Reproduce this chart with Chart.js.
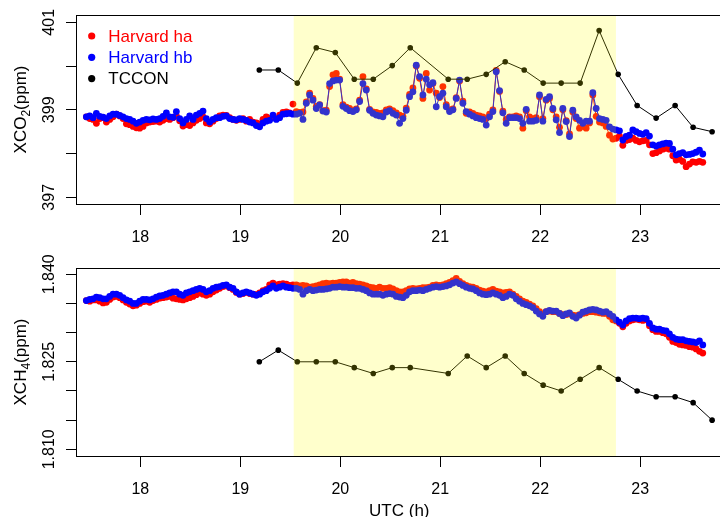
<!DOCTYPE html>
<html>
<head>
<meta charset="utf-8">
<script src="https://cdn.jsdelivr.net/npm/chart.js@4.4.1/dist/chart.umd.min.js"></script>
<style>
  html, body { margin: 0; padding: 0; background: #fff; overflow: hidden; }
  canvas { position: absolute; left: 0; }
  #co2 { top: 0; }
  #ch4 { top: 240px; }
</style>
</head>
<body>
<canvas id="co2" width="726" height="258"></canvas>
<canvas id="ch4" width="726" height="277"></canvas>
<script>
// Harvard spectrometers sample every 2 minutes from 17.46 UTC
const harvardStart = 17.46;
const harvardStep = 2 / 60;

const co2Ha = [
  398.84, 398.80, 398.78, 398.69, 398.80, 398.82, 398.72, 398.78, 398.84, 398.90, 398.86, 398.80,
  398.68, 398.66, 398.62, 398.59, 398.58, 398.62, 398.70, 398.72, 398.73, 398.74, 398.72, 398.76,
  398.80, 398.78, 398.82, 398.86, 398.75, 398.63, 398.66, 398.64, 398.70, 398.76, 398.80, 398.84,
  398.70, 398.68, 398.74, 398.80, 398.86, 398.88, 398.87, 398.82, 398.78, 398.76, 398.78, 398.80,
  398.74, 398.78, 398.72, 398.70, 398.68, 398.78, 398.84, 398.80, 398.84, 398.80, 398.88, 398.94,
  398.95, 398.93, 399.13, 398.96, 398.94, 398.95, 399.18, 399.38, 399.26, 399.08, 399.12, 398.98,
  398.99, 399.53, 399.80, 399.83, 399.70, 399.12, 399.06, 399.03, 398.98, 399.02, 399.22, 399.76,
  399.48, 399.01, 398.95, 398.94, 398.92, 398.93, 399.00, 399.02, 398.98, 398.93, 398.88, 398.85,
  399.04, 399.35, 399.50, 400.00, 399.72, 399.26, 399.83, 399.45, 399.60, 399.38, 399.28, 399.53,
  399.12, 399.00, 399.02, 399.28, 399.66, 399.20, 398.92, 398.95, 398.92, 398.88, 398.86, 398.84,
  398.80, 398.90, 399.00, 399.90, 399.42, 398.97, 398.78, 398.84, 398.84, 398.86, 398.84, 398.58,
  398.98, 398.84, 398.80, 398.82, 399.30, 398.80, 399.22, 399.26, 399.00, 398.84, 398.60, 399.00,
  398.75, 398.45, 398.95, 398.80, 398.58, 398.62, 398.58, 398.70, 399.34, 398.85, 398.72, 398.70,
  398.62, 398.42, 398.33, 398.35, 398.40, 398.19, 398.30, 398.32, 398.35, 398.30, 398.27, 398.29,
  398.30, 398.20, 398.00, 398.02, 398.06, 398.10, 398.12, 398.10, 397.95, 397.85, 397.87, 397.82,
  397.70, 397.76, 397.81, 397.80, 397.82, 397.80
];
const co2Hb = [
  398.84, 398.86, 398.82, 398.92, 398.85, 398.83, 398.80, 398.86, 398.90, 398.90, 398.87, 398.84,
  398.80, 398.78, 398.74, 398.69, 398.72, 398.76, 398.78, 398.77, 398.79, 398.78, 398.80, 398.85,
  398.93, 398.84, 398.83, 398.96, 398.80, 398.70, 398.78, 398.86, 398.78, 398.88, 398.92, 398.97,
  398.80, 398.72, 398.78, 398.82, 398.82, 398.85, 398.86, 398.80, 398.78, 398.77, 398.80, 398.78,
  398.76, 398.72, 398.70, 398.64, 398.61, 398.70, 398.74, 398.76, 398.88, 398.78, 398.82, 398.90,
  398.91, 398.92, 398.90, 398.90, 398.92, 398.78, 399.15, 399.34, 399.22, 399.03, 399.11, 398.97,
  398.95, 399.60, 399.66, 399.68, 399.68, 399.08, 399.03, 398.98, 398.96, 399.00, 399.19, 399.60,
  399.45, 398.99, 398.92, 398.88, 398.86, 398.84, 398.95, 398.98, 398.92, 398.88, 398.69, 398.80,
  398.99, 399.30, 399.41, 400.02, 399.76, 399.34, 399.70, 399.57, 399.62, 399.07, 399.30, 399.38,
  399.07, 398.96, 399.00, 399.26, 399.68, 399.15, 398.96, 398.90, 398.86, 398.82, 398.80, 398.78,
  398.65, 398.84, 398.96, 399.87, 399.44, 398.93, 398.69, 398.82, 398.82, 398.82, 398.80, 398.69,
  399.01, 398.74, 398.74, 398.76, 399.34, 398.74, 399.24, 399.30, 399.03, 398.77, 398.48, 399.03,
  398.73, 398.39, 398.99, 398.84, 398.76, 398.69, 398.74, 398.74, 399.39, 399.03, 398.80, 398.78,
  398.76, 398.61, 398.56, 398.54, 398.52, 398.31, 398.39, 398.42, 398.54, 398.50, 398.46, 398.44,
  398.48, 398.40, 398.20, 398.17, 398.20, 398.22, 398.24, 398.23, 398.10, 397.97, 398.00, 398.02,
  397.97, 397.98, 398.00, 398.03, 398.08, 397.99
];
const ch4Ha = [
  1.8355, 1.8354, 1.8356, 1.8356, 1.8354, 1.8351, 1.8352, 1.8357, 1.8361, 1.8362, 1.8360, 1.8356,
  1.8352, 1.8349, 1.8346, 1.8347, 1.8350, 1.8353, 1.8354, 1.8352, 1.8355, 1.8357, 1.8359, 1.8360,
  1.8361, 1.8362, 1.8359, 1.8358, 1.8357, 1.8356, 1.8358, 1.8360, 1.8362, 1.8365, 1.8368, 1.8366,
  1.8364, 1.8366, 1.8370, 1.8373, 1.8376, 1.8379, 1.8380, 1.8377, 1.8374, 1.8369, 1.8366, 1.8367,
  1.8369, 1.8367, 1.8366, 1.8365, 1.8368, 1.8372, 1.8374, 1.8382, 1.8385, 1.8382, 1.8383, 1.8384,
  1.8383, 1.8381, 1.8382, 1.8382, 1.8380, 1.8381, 1.8380, 1.8378, 1.8379, 1.8380, 1.8382, 1.8384,
  1.8385, 1.8384, 1.8385, 1.8385, 1.8386, 1.8387, 1.8387, 1.8385, 1.8386, 1.8384, 1.8383, 1.8382,
  1.8380, 1.8378, 1.8377, 1.8376, 1.8378, 1.8376, 1.8376, 1.8377, 1.8375, 1.8372, 1.8370, 1.8370,
  1.8372, 1.8375, 1.8376, 1.8375, 1.8376, 1.8377, 1.8377, 1.8378, 1.8381, 1.8382, 1.8381, 1.8382,
  1.8384, 1.8386, 1.8389, 1.8393, 1.8388, 1.8384, 1.8381, 1.8379, 1.8378, 1.8376, 1.8373, 1.8371,
  1.8370, 1.8372, 1.8374, 1.8371, 1.8370, 1.8368, 1.8369, 1.8370, 1.8366, 1.8362, 1.8358, 1.8354,
  1.8352, 1.8349, 1.8346, 1.8341, 1.8336, 1.8332, 1.8336, 1.8337, 1.8336, 1.8336, 1.8333, 1.8331,
  1.8331, 1.8332, 1.8330, 1.8329, 1.8331, 1.8333, 1.8334, 1.8336, 1.8336, 1.8335, 1.8334, 1.8333,
  1.8333, 1.8328, 1.8322, 1.8320, 1.8316, 1.8310, 1.8316, 1.8320, 1.8322, 1.8323, 1.8322, 1.8321,
  1.8322, 1.8312, 1.8305, 1.8302, 1.8302, 1.8300, 1.8298, 1.8292, 1.8285, 1.8283, 1.8280, 1.8279,
  1.8278, 1.8276, 1.8275, 1.8272, 1.8268, 1.8265
];
const ch4Hb = [
  1.8355, 1.8357, 1.8358, 1.8361, 1.8360, 1.8358, 1.8358, 1.8362, 1.8366, 1.8366, 1.8364, 1.8360,
  1.8356, 1.8354, 1.8350, 1.8350, 1.8354, 1.8357, 1.8357, 1.8356, 1.8358, 1.8361, 1.8363, 1.8364,
  1.8366, 1.8368, 1.8370, 1.8370, 1.8366, 1.8364, 1.8368, 1.8370, 1.8372, 1.8374, 1.8376, 1.8374,
  1.8370, 1.8372, 1.8376, 1.8378, 1.8379, 1.8381, 1.8382, 1.8378, 1.8376, 1.8370, 1.8366, 1.8368,
  1.8370, 1.8368, 1.8366, 1.8364, 1.8366, 1.8370, 1.8372, 1.8376, 1.8380, 1.8376, 1.8378, 1.8380,
  1.8378, 1.8377, 1.8376, 1.8376, 1.8374, 1.8366, 1.8372, 1.8374, 1.8372, 1.8373, 1.8374, 1.8374,
  1.8375, 1.8376, 1.8378, 1.8378, 1.8379, 1.8378, 1.8378, 1.8377, 1.8377, 1.8376, 1.8376, 1.8374,
  1.8372, 1.8368, 1.8366, 1.8366, 1.8366, 1.8364, 1.8366, 1.8367, 1.8366, 1.8362, 1.8361, 1.8360,
  1.8364, 1.8370, 1.8372, 1.8372, 1.8373, 1.8372, 1.8374, 1.8376, 1.8378, 1.8379, 1.8378, 1.8379,
  1.8380, 1.8382, 1.8385, 1.8387, 1.8384, 1.8381, 1.8378, 1.8376, 1.8375, 1.8372, 1.8368, 1.8366,
  1.8365, 1.8366, 1.8368, 1.8366, 1.8364, 1.8360, 1.8362, 1.8366, 1.8364, 1.8358, 1.8354, 1.8350,
  1.8348, 1.8346, 1.8343, 1.8337, 1.8332, 1.8328, 1.8336, 1.8338, 1.8337, 1.8337, 1.8333, 1.8329,
  1.8332, 1.8334, 1.8328, 1.8325, 1.8330, 1.8335, 1.8337, 1.8339, 1.8340, 1.8339, 1.8337, 1.8335,
  1.8336, 1.8332, 1.8328, 1.8322, 1.8318, 1.8313, 1.8320, 1.8324, 1.8325, 1.8325, 1.8324, 1.8325,
  1.8324, 1.8316, 1.8308, 1.8306, 1.8306, 1.8304, 1.8303, 1.8298, 1.8292, 1.8289, 1.8288, 1.8288,
  1.8286, 1.8285, 1.8284, 1.8283, 1.8286, 1.8279
];

const tcconHours = [19.19, 19.38, 19.57, 19.76, 19.95, 20.14, 20.33, 20.52, 20.70, 21.08, 21.27, 21.46,
                    21.65, 21.84, 22.03, 22.21, 22.40, 22.59, 22.78, 22.97, 23.16, 23.35, 23.53, 23.72];
const tcconCo2 = [399.91, 399.91, 399.61, 400.42, 400.31, 399.70, 399.70, 400.01, 400.42, 399.70, 399.70, 399.81,
                  400.10, 399.91, 399.61, 399.61, 399.61, 400.81, 399.81, 399.10, 398.81, 399.10, 398.60, 398.50];
const tcconCh4 = [1.8250, 1.8270, 1.8250, 1.8250, 1.8250, 1.8240, 1.8230, 1.8240, 1.8240, 1.8230, 1.8260, 1.8240,
                  1.8260, 1.8230, 1.8210, 1.8200, 1.8220, 1.8240, 1.8220, 1.8200, 1.8190, 1.8190, 1.8180, 1.8150];

const xTicks = [18, 19, 20, 21, 22, 23];
const co2Ticks = [397, 398, 399, 400, 401];
const co2Labels = [397, 399, 401];
const ch4Ticks = [1.810, 1.815, 1.820, 1.825, 1.830, 1.835, 1.840];
const ch4Labels = [1.810, 1.825, 1.840];

// overpass window highlighted in yellow
const shadeFrom = 19.534;
const shadeTo = 22.758;

const harvardHours = co2Ha.map((_, i) => harvardStart + i * harvardStep);

Chart.defaults.font.family = "'Liberation Sans', Arial, sans-serif";
Chart.defaults.color = '#000';

const inShade = h => h >= shadeFrom && h <= shadeTo;

function harvardSet(label, values, color, order) {
  return {
    label, order,
    data: harvardHours.map((h, i) => ({ x: h, y: values[i] })),
    showLine: true,
    borderColor: color,
    borderWidth: 1,
    backgroundColor: color,
    pointRadius: 3.4,
    pointHoverRadius: 3.4,
    pointBorderWidth: 0,
    segment: {
      borderColor: c => inShade(c.p0.parsed.x) && inShade(c.p1.parsed.x) ? color : 'rgba(0,0,0,0)'
    }
  };
}

function tcconSet(values) {
  return {
    label: 'TCCON', order: 0,
    data: tcconHours.map((h, i) => ({ x: h, y: values[i] })),
    showLine: true,
    borderColor: '#000',
    borderWidth: 1,
    backgroundColor: '#000',
    pointRadius: 2.8,
    pointHoverRadius: 2.8,
    pointBorderWidth: 0
  };
}

function rotatedText(ctx, parts, cx, cy) {
  // parts: [text, fontPx, shift] drawn bottom-to-top, centred on cy
  let total = 0;
  parts.forEach(p => { ctx.font = p[1] + "px 'Liberation Sans', Arial, sans-serif"; total += ctx.measureText(p[0]).width; });
  ctx.save();
  ctx.translate(cx, cy);
  ctx.rotate(-Math.PI / 2);
  ctx.textAlign = 'left';
  ctx.textBaseline = 'alphabetic';
  let pos = -total / 2;
  parts.forEach(p => {
    ctx.font = p[1] + "px 'Liberation Sans', Arial, sans-serif";
    ctx.fillText(p[0], pos, p[2]);
    pos += ctx.measureText(p[0]).width;
  });
  ctx.restore();
}

function panelPlugin(opts) {
  return {
    id: 'panel',
    afterDatasetsDraw(chart) {
      const { ctx, chartArea: a, scales: { x } } = chart;
      ctx.save();
      const x0 = x.getPixelForValue(shadeFrom), x1 = x.getPixelForValue(shadeTo);
      ctx.fillStyle = 'rgba(255,255,0,0.2)';
      ctx.fillRect(x0, a.top, x1 - x0, a.bottom - a.top);
      ctx.strokeStyle = '#000';
      ctx.lineWidth = 1;
      const l = Math.round(a.left) + 0.5, t = Math.round(a.top) + 0.5, b = Math.round(a.bottom) + 0.5;
      ctx.strokeRect(l, t, a.right + 10 - l, b - t);
      ctx.restore();
    },
    afterDraw(chart) {
      const { ctx, chartArea: a, scales: { y } } = chart;
      ctx.save();
      ctx.fillStyle = '#000';
      opts.yLabels.forEach(v => {
        rotatedText(ctx, [[opts.fmt(v), 16, 0]], 54, y.getPixelForValue(v));
      });
      rotatedText(ctx, opts.yTitle, 25.5, (a.top + a.bottom) / 2);
      if (opts.legend) {
        opts.legend.forEach((item, i) => {
          const cy = 36 + i * 21.3;
          ctx.fillStyle = item[1];
          ctx.beginPath();
          ctx.arc(91.7, cy, 3.6, 0, Math.PI * 2);
          ctx.fill();
          ctx.font = "17px 'Liberation Sans', Arial, sans-serif";
          ctx.textAlign = 'left';
          ctx.textBaseline = 'middle';
          ctx.fillText(item[0], 108.3, cy + 1);
        });
      }
      if (opts.xTitle) {
        ctx.fillStyle = '#000';
        ctx.font = "17px 'Liberation Sans', Arial, sans-serif";
        ctx.textAlign = 'center';
        ctx.textBaseline = 'alphabetic';
        ctx.fillText(opts.xTitle, (a.left + a.right) / 2, chart.height - 1);
      }
      ctx.restore();
    }
  };
}

function makePanel(id, datasets, yMin, yMax, yTicks, padTop, xHeight, plugin) {
  return new Chart(document.getElementById(id), {
    type: 'scatter',
    data: { datasets },
    options: {
      responsive: false,
      animation: false,
      layout: { padding: { top: padTop, left: 0, right: 0, bottom: 0 } },
      plugins: { legend: { display: false }, tooltip: { enabled: false } },
      scales: {
        x: {
          type: 'linear', min: 17.356, max: 23.825,
          afterBuildTicks: s => { s.ticks = xTicks.map(v => ({ value: v })); },
          afterFit: s => { s.height = xHeight; },
          grid: { drawOnChartArea: false, drawTicks: true, tickLength: 11, color: '#000' },
          border: { display: false },
          ticks: { font: { size: 16 }, color: '#000', padding: 13, maxRotation: 0, callback: v => String(v) }
        },
        y: {
          type: 'linear', min: yMin, max: yMax,
          afterBuildTicks: s => { s.ticks = yTicks.map(v => ({ value: v })); },
          afterFit: s => { s.width = 76; },
          grid: { drawOnChartArea: false, drawTicks: true, tickLength: 10, color: '#000' },
          border: { display: false },
          ticks: { display: false }
        }
      }
    },
    plugins: [plugin]
  });
}

makePanel('co2', [
  harvardSet('Harvard ha', co2Ha, '#ff0000', 2),
  harvardSet('Harvard hb', co2Hb, '#0000ff', 1),
  tcconSet(tcconCo2)
], 396.847, 401.167, co2Ticks, 15, 54, panelPlugin({
  yLabels: co2Labels,
  fmt: v => String(v),
  yTitle: [['XCO', 17, 0], ['2', 12, 4], ['(ppm)', 17, 0]],
  legend: [['Harvard ha', '#ff0000'], ['Harvard hb', '#0000ff'], ['TCCON', '#000000']]
}));

makePanel('ch4', [
  harvardSet('Harvard ha', ch4Ha, '#ff0000', 2),
  harvardSet('Harvard hb', ch4Hb, '#0000ff', 1),
  tcconSet(tcconCh4)
], 1.80885, 1.84108, ch4Ticks, 28, 61, panelPlugin({
  yLabels: ch4Labels,
  fmt: v => v.toFixed(3),
  yTitle: [['XCH', 17, 0], ['4', 12, 4], ['(ppm)', 17, 0]],
  xTitle: 'UTC (h)'
}));
</script>
</body>
</html>
